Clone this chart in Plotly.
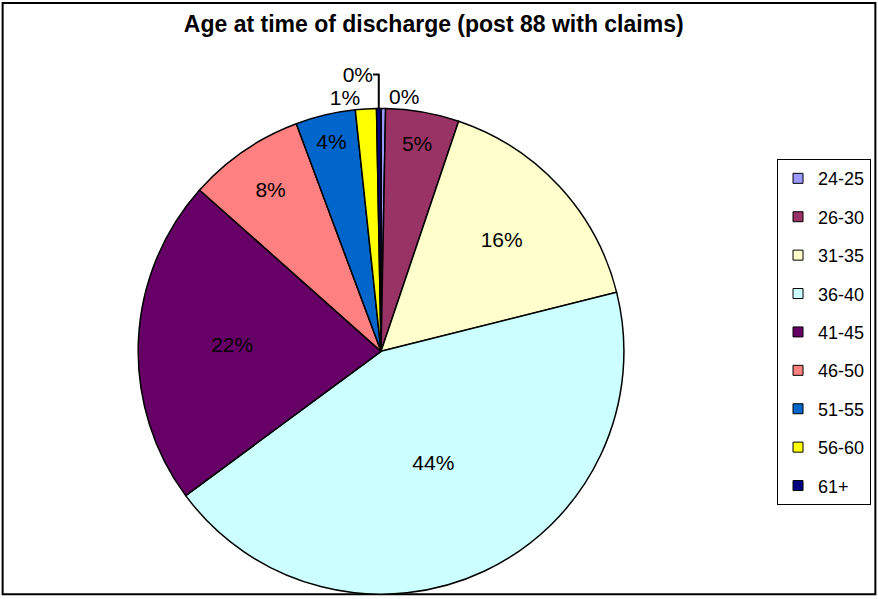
import plotly.graph_objects as go

categories = ["24-25", "26-30", "31-35", "36-40", "41-45", "46-50", "51-55", "56-60", "61+"]
values = [0.3, 4.9, 16.0, 44.0, 21.8, 7.8, 4.0, 1.4, 0.3]
colors = ["#9999FF", "#993366", "#FFFFCC", "#CCFFFF", "#660066", "#FF8080", "#0066CC", "#FFFF00", "#000080"]
title = "Age at time of discharge (post 88 with claims)"

FONT = "Arial, Liberation Sans, sans-serif"
positions = ["outside" if v < 2 else "inside" for v in values]

fig = go.Figure()
fig.add_trace(go.Pie(
    labels=categories, values=values, sort=False, direction="clockwise", rotation=0,
    marker=dict(colors=colors, line=dict(color="black", width=1.5)),
    textinfo="percent", texttemplate="%{percent:.0%}",
    textposition=positions,
    insidetextorientation="horizontal",
    textfont=dict(family=FONT, size=21, color="black"),
    outsidetextfont=dict(family=FONT, size=21, color="black"),
    insidetextfont=dict(family=FONT, size=21, color="black"),
    showlegend=False, hoverinfo="label+percent",
    domain=dict(x=[0.156, 0.712], y=[0.003, 0.818]),
))

for i, (c, col) in enumerate(zip(categories, colors)):
    fig.add_trace(go.Scatter(
        x=[None], y=[None], mode="markers", name=c, legendgroup=f"g{i}",
        marker=dict(symbol="square", size=10, color=col, line=dict(color="black", width=1)),
        showlegend=True,
    ))

fig.update_layout(
    width=878, height=599,
    margin=dict(l=0, r=0, t=0, b=0),
    paper_bgcolor="white", plot_bgcolor="white",
    font=dict(family=FONT, color="black"),
    title=dict(text=f"<b>{title}</b>", x=0.494, xanchor="center", y=0.96, yanchor="middle",
               font=dict(family=FONT, size=23, color="black")),
    xaxis=dict(visible=False), yaxis=dict(visible=False),
    legend=dict(x=0.885, y=0.733, xanchor="left", yanchor="top",
                bordercolor="black", borderwidth=1, bgcolor="white",
                font=dict(family=FONT, size=18, color="black"),
                tracegroupgap=12, itemwidth=30),
    shapes=[dict(type="rect", xref="paper", yref="paper", x0=0.003, x1=0.997, y0=0.003, y1=0.995,
                 line=dict(color="black", width=2), layer="below")],
)

fig.write_html("out.html", config={"displayModeBar": False},
               post_script="document.body.style.margin='0';")
